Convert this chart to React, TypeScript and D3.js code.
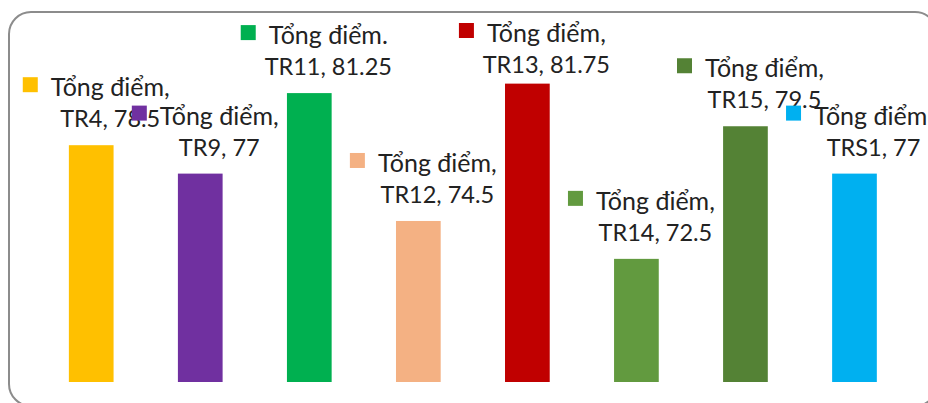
import { useEffect, useRef } from 'react'
import * as d3 from 'd3'

const categories = ['TR4', 'TR9', 'TR11', 'TR12', 'TR13', 'TR14', 'TR15', 'TRS1']
const scores = [78.5, 77, 81.25, 74.5, 81.75, 72.5, 79.5, 77]
const scoreLabels = ['78.5', '77', '81.25', '74.5', '81.75', '72.5', '79.5', '77']
const seriesNames = ['Tổng điểm,', 'Tổng điểm,', 'Tổng điểm.', 'Tổng điểm,', 'Tổng điểm,', 'Tổng điểm,', 'Tổng điểm,', 'Tổng điểm,']
const colors = ['#FFC000', '#7030A0', '#00B050', '#F4B183', '#C00000', '#629A3F', '#548235', '#00B0F0']

const W = 928
const H = 403

export default function App() {
  const ref = useRef<SVGSVGElement | null>(null)

  useEffect(() => {
    const svg = d3.select(ref.current)
    svg.selectAll('*').remove()

    // chart frame, runs off the right and bottom edges
    svg.append('rect')
      .attr('x', 9).attr('y', 12)
      .attr('width', 928).attr('height', 394)
      .attr('rx', 22)
      .attr('fill', '#fff')
      .attr('stroke', '#8c8c8c')
      .attr('stroke-width', 2)

    const xScale = d3.scaleBand()
      .domain(categories)
      .range([36.7, 909])
      .paddingInner(0.59)
      .paddingOuter(0.295)

    const yScale = d3.scaleLinear()
      .domain([66, 84])
      .range([382, 41])

    const data = categories.map((c, i) => ({ cat: c, v: scores[i], lab: scoreLabels[i], name: seriesNames[i], color: colors[i] }))

    svg.append('g')
      .selectAll('rect')
      .data(data)
      .join('rect')
      .attr('x', (d) => xScale(d.cat)!)
      .attr('y', (d) => yScale(d.v))
      .attr('width', xScale.bandwidth())
      .attr('height', (d) => yScale(66) - yScale(d.v))
      .attr('fill', (d) => d.color)

    const font = 'Lato, "Open Sans", sans-serif'
    const labels = svg.append('g')
    data.forEach((d) => {
      const cx = xScale(d.cat)! + xScale.bandwidth() / 2 + 19
      // outside end, pushed down when it would hit the frame top
      const base2 = Math.max(yScale(d.v) - 18, 73)
      const base1 = base2 - 31
      const g = labels.append('g')
      const sq = g.append('rect')
      const t1 = g.append('text')
        .attr('x', cx).attr('y', base1)
        .attr('text-anchor', 'middle')
        .attr('font-family', font).attr('font-size', 25)
        .attr('fill', '#222')
        .text(d.name)
      g.append('text')
        .attr('x', cx).attr('y', base2)
        .attr('text-anchor', 'middle')
        .attr('font-family', font).attr('font-size', 23.5)
        .attr('fill', '#222')
        .text(`${d.cat}, ${d.lab}`)
      const w1 = (t1.node() as SVGTextElement).getComputedTextLength()
      sq.attr('x', cx - w1 / 2 - 13 - 15)
        .attr('y', base1 - 19)
        .attr('width', 15).attr('height', 15)
        .attr('fill', d.color)
    })
  }, [])

  return (
    <svg ref={ref} width={W} height={H} style={{ position: 'absolute', left: 0, top: 0 }} />
  )
}
